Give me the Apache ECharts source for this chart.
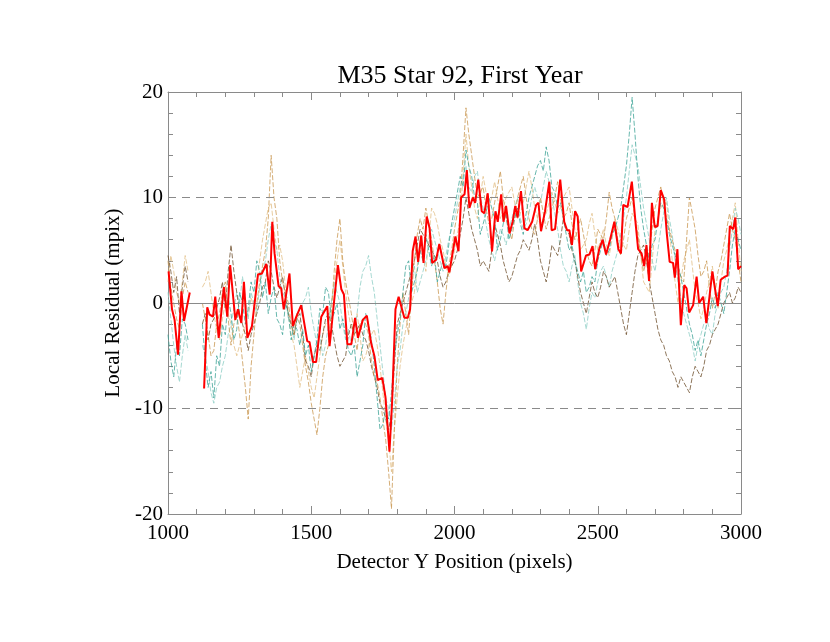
<!DOCTYPE html>
<html>
<head>
<meta charset="utf-8">
<script src="https://cdn.jsdelivr.net/npm/echarts@6/dist/echarts.min.js"></script>
<style>
  html, body { margin: 0; padding: 0; background: #fff; }
  #chart { width: 830px; height: 642px; }
</style>
</head>
<body>
<div id="chart"></div>
<script>
// thick red line: mean residual (irregular sample positions)
var redX = [1002, 1014, 1023, 1035, 1047, 1056, 1076, null,
  1126, 1137, 1145, 1157, 1165, 1177, 1195, 1207, 1217, 1235, 1244, 1256, 1265, 1277, 1293,
  1314, 1328, 1343, 1355, 1364, 1372, 1386, 1395, 1404, 1424, 1436, 1448, 1465, 1486, 1494,
  1506, 1517, 1535, 1556, 1564, 1581, 1593, 1605, 1614, 1626, 1640, 1653, 1663, 1680, 1694,
  1709, 1721, 1732, 1748, 1759, 1773, 1782, 1794, 1805, 1825, 1837, 1845, 1854, 1864, 1873,
  1884, 1892, 1903, 1913, 1922, 1936, 1947, 1965, 1976, 1982, 2003, 2014, 2023, 2035, 2043,
  2052, 2064, 2072, 2083, 2095, 2104, 2116, 2131, 2143, 2151, 2163, 2171, 2180, 2192, 2203,
  2212, 2220, 2232, 2244, 2255, 2271, 2285, 2293, 2302, 2316, 2331, 2339, 2351, 2369, 2383,
  2393, 2401, 2410, 2421, 2430, 2442, 2459, 2471, 2482, 2491, 2505, 2517, 2529, 2543, 2558,
  2572, 2581, 2589, 2604, 2619, 2633, 2641, 2653, 2662, 2670, 2679, 2689, 2699, 2709, 2720,
  2732, 2741, 2751, 2763, 2769, 2778, 2790, 2802, 2810, 2819, 2833, 2845, 2854, 2868, 2879,
  2890, 2900, 2909, 2919, 2929, 2944, 2953, 2961, 2973, 2980, 2990, 3000];
var redY = [3.0, -0.6, -1.6, -4.9, 1.1, -1.7, 1.0, null,
  -8.1, -0.4, -1.1, -1.3, 0.6, -3.3, 1.5, -1.3, 3.6, -1.6, -0.6, -1.9, 2.0, -3.3, -2.2,
  2.7, 2.8, 3.7, 0.8, 7.7, 4.7, 1.6, 1.4, -0.6, 2.8, -2.2, -1.3, -0.2, -3.6, -3.7,
  -5.6, -5.6, -1.3, -0.3, -4.1, 0.5, 3.6, 1.3, 0.8, -3.9, -3.9, -1.4, -3.3, -1.6, -1.2,
  -3.8, -5.1, -7.3, -7.1, -8.9, -14.1, -9.5, -0.6, 0.6, -1.4, -1.4, -0.6, 4.9, 6.3, 3.9,
  6.4, 3.8, 8.2, 7.1, 3.8, 4.1, 5.6, 3.3, 3.5, 2.9, 6.3, 4.9, 10.0, 10.3, 12.6,
  9.0, 10.0, 9.5, 11.7, 8.7, 8.5, 10.4, 4.9, 8.7, 7.7, 10.3, 7.7, 9.2, 6.6, 7.7,
  9.2, 8.1, 10.6, 7.1, 6.9, 7.7, 9.3, 9.5, 6.8, 8.7, 11.5, 6.9, 7.0, 11.7, 7.7,
  6.9, 6.9, 5.5, 8.7, 8.2, 3.0, 4.5, 4.6, 5.4, 3.2, 5.1, 6.0, 4.6, 6.0, 7.7,
  5.1, 4.7, 9.3, 9.1, 11.5, 7.3, 5.1, 4.7, 3.5, 5.5, 2.1, 9.5, 7.2, 7.3, 10.7,
  9.8, 6.6, 3.9, 3.8, 2.4, 5.1, -2.1, 1.7, 1.4, -0.9, -0.2, 2.5, 0.0, 0.6, -1.9,
  0.6, 3.0, 1.4, -0.3, 2.2, 2.5, 2.6, 7.3, 7.0, 8.1, 3.2, 3.5];

// thin lines: individual residual traces, one value every 10 pixels from 1000 to 3000
// (one row per 100 pixels)
var thinStart = 1000;
var thinStep = 10;
var tealY = [
  -3, -5.5, -7, -4, -5, -1.5, -2, -3.5, null, null,
  null, null, -2, -5.5, -8, -6.5, -9, -5, -6, -2,
  -3, 0.5, -1, -3.5, -2.5, 1, 0, -2, -0.5, 2,
  1, 4, 3, 0.5, 2, -1, 0.5, 1.5, -1.5, -2,
  -3, 0, -1, -3.5, -2, -2.5, -4, -2.5, -5, -4,
  -6.5, -5, -3.5, -0.5, -1, 1.5, 1, -1.5, -1, 0,
  -2.5, -1.5, -3, -4.5, -5, -4, -7, -5.5, -4, -1,
  -2, -3.5, -6, -9, -12, -11.5, -10, -11, -8.5, -5,
  -3, -1.5, 1, 3.5, 4, 1, 2, 3, 5, 4,
  6.5, 5, 3.5, 4.5, 2, 3, 4, 3.5, 5.5, 7.5,
  9, 10.5, 12, 11, 14.5, 13, 12, 10, 9.5, 6.5,
  7.5, 8.5, 10, 9, 8, 5, 6, 7.5, 8.5, 6,
  7, 8, 9, 7.5, 6.5, 8.5, 10, 11, 12, 13,
  13.5, 12.5, 14.8, 13.5, 11, 10.5, 9, 9.5, 8, 6.5,
  5, 5.5, 4, 3, 2, 3, 1, 1.5, 2.5, 2,
  4, 5, 6, 4.5, 5, 6.5, 7, 8, 9, 11,
  13, 16, 19.5, 16, 12, 9, 7, 5.5, 4, 5.5,
  6, 8, 9.5, 9, 8, 6.5, 5.5, 4.5, 3.5, 2.5,
  1, -0.5, -2, -3, -4.5, -3.5, -5, -3.5, -2, -1,
  0.5, -0.5, 1, 0, -1, 1, 3, 5.5, 7, 6,
  5];
var lightTealY = [
  1, -1.5, -4, -6, -7.5, -5, -3, -4.5, null, null,
  null, null, -4, -5, -6.5, -8.5, -9.5, -8, -7.5, -6,
  -5, -3, -2, -0.5, 1, 0, 2.5, 0.5, -1.5, 1,
  0, -1, 1.5, 3, 4, 6, 7.5, 6, 5, 2.5,
  1, 0.5, -1.5, -2, -3.5, -1.5, -2, 0, 0.5, 1.5,
  -1, -2.5, -4, -3, -5, -4, -2, 0, 2, 1,
  0, -2, -3.5, -2.5, -4, -3, -1, 1.5, 3, 3.5,
  4.5, 2.5, 1, -1.5, -4, -6.5, -9, -10, -12, -9.5,
  -6, -4.5, -2, -1, 0.5, 2, 3.5, 1, 2, 3,
  4, 5.5, 7, 6, 5, 4, 3, 4.5, 6, 7,
  8, 9.5, 11, 12, 13, 11, 10.5, 12, 12.5, 10,
  9, 7.5, 6, 5, 4, 5.5, 7, 6.5, 5.5, 7,
  8, 9, 10, 8, 7, 7.5, 8.5, 10, 11, 10,
  9.5, 11, 12.5, 11.5, 10, 8.5, 7, 5, 3.5, 3,
  2, 3.5, 4.5, 2, 0, -1, -2.5, -0.5, 1, 0.5,
  2, 3, 3.5, 2.5, 1.5, 3, 4, 5, 6.5, 8,
  10, 12.5, 15, 14, 13, 11, 9, 7.5, 6, 4,
  3, 5, 7, 8.5, 10, 8, 6.5, 4, 2, 0.5,
  -1, -2, -3, -4, -5.5, -4, -3, -2, -1.5, -2.5,
  -3, -1, 0, 1, 1.5, 3, 5, 7, 9, 8,
  6.5];
var tanY = [
  4, 1.5, 0, -1.5, -2.5, 0.5, 2, 1, null, null,
  null, null, 0, -1.5, -3, -5, -4.5, -2, -1, 1,
  2, -1.5, -4, -2, -1, -3, -5.5, -8, -11, -6,
  -3, 0, 2, 3.5, 5, 8, 14, 10, 8, 4,
  2, 1, 0, -2, -3, -1, -2, -4, -6, -7.5,
  -9.5, -11, -12.5, -10, -7, -5, -4, -1, 3, 6,
  8, 4, 2, 0.5, -1, -3, -4.5, -2, -1.5, -2,
  -3, -5.5, -7, -7.5, -9, -11, -13, -16, -19.5, -12,
  -6, -2, 1, -1, -3, 1, 4, 6.5, 8, 7,
  9, 7.5, 6, 4, 2, -0.5, -2, 1, 3.5, 5,
  7, 8.5, 10, 14, 18.5, 16, 14, 12, 10, 10.5,
  11, 9, 7.5, 8, 9.5, 11, 12.5, 10, 8, 7,
  6, 8, 10, 11, 12, 10, 8, 7, 6.5, 8,
  10, 8.5, 7, 8, 9, 10, 11.5, 10, 8, 8.5,
  9.5, 7.5, 6, 7, 8, 6.5, 5, 4, 3.5, 5,
  7, 6.5, 6, 8, 10.5, 9, 8, 6, 4.5, 6,
  8, 9, 10, 8, 6.5, 4.5, 3, 4, 5, 7,
  9, 10, 11, 9.5, 8, 7, 6, 5, 3.5, 2.5,
  2, 6, 10, 8.5, 7, 4.5, 2.5, 3, 4, 1.5,
  -0.5, 1, 3, 4, 5.5, 7, 8.5, 7, 6, 4,
  2];
var lightTanY = [
  2, 4.5, 3, 1, 0, 2, 4.5, 3, null, null,
  null, null, 1.5, 2, 3, 1, -1, -2.5, -3.5, -1.5,
  0, -1, -2, -4, -5, -4, -3, -2, -1, 0.5,
  -0.5, 2, 4, 6, 7.5, 9, 9.5, 7, 5, 5.5,
  4, 1.5, -1, -3, -4, -6, -8, -6.5, -5, -6.5,
  -8, -9, -7, -5, -3, -2, -1.5, 0, 2, 4,
  6, 3.5, 1, -1, -2.5, -2, -1, -3, -5.5, -5,
  -4, -3, -2.5, -4, -6, -8.5, -11, -13, -16, -12,
  -9, -6, -4, -2.5, -1, 0, 1, 3.5, 6, 4.5,
  3, 6, 9, 8.5, 7.5, 6, 5, 3.5, 2.5, 3.5,
  5, 6.5, 8, 12, 16, 13, 11, 9, 8, 10,
  12, 10.5, 9, 10, 11.5, 10, 8, 9, 10, 10.5,
  11, 9.5, 8, 8.5, 9.5, 11, 12.5, 11, 9, 8,
  7.5, 8, 8.5, 9.5, 10.5, 9.5, 8.5, 9, 10, 10.5,
  11, 9, 7, 6, 5, 5.5, 6, 7.5, 8.5, 6.5,
  5, 6, 7, 5.5, 4.5, 6, 8, 7, 6, 5.5,
  5, 7, 8.5, 8, 7.5, 4.5, 2, 1.5, 1, 4,
  7, 8, 9, 9.5, 9.5, 7, 4, 2, 0, 2,
  4, 5, 6, 3.5, 1, 0, -1.5, -0.5, 1, 2,
  3.5, 1.5, -0.5, 2, 4, 5, 6.5, 8, 9.5, 6,
  3];
var brownY = [
  4.5, 3, 1, 2.5, -1, 1.5, 3.5, 2, null, null,
  null, null, -2, -1, -3.5, -2, -1.5, -0.5, 0.5, 2,
  -0.5, 3, 5.5, 3, 1, -1, -2, -3, -4.5, -3,
  -2, -1, 0, 1.5, 2, 4, 3, 1.5, 0.5, 1.5,
  2.5, 0.5, -1, -2, -3, -1.5, -1, -3, -5.5, -6,
  -7, -5, -4, -4.5, -3, -1.5, -1, -2, -3.5, -5,
  -6, -5.5, -5, -3, -2, -3, -2.5, -2, -3, -3.5,
  -4.5, -6, -7, -8, -9.5, -10, -11, -12, -10.5, -6,
  -2, -1, 0, 1, 2, 3, 4, 5.5, 7, 6.5,
  6, 5.5, 5, 4.5, 4, 2.5, 1.5, 2, 3, 3.5,
  4, 5, 6.5, 8, 10, 8.5, 7, 6, 5, 3.5,
  4, 3.5, 3, 5, 7.5, 6.5, 5.5, 4, 3, 2,
  2.5, 3.5, 4.5, 5, 6, 5.5, 5, 6, 7.5, 6,
  4, 3, 2, 3.5, 5.5, 5, 4.5, 6, 8, 7,
  6.5, 5, 4, 2.5, 1, 0, -1, 0.5, 2, 1,
  0.5, 1.5, 3, 2.5, 1.5, 2, 2.5, 1, -0.5, -2,
  -3, -1, 1, 3, 4.5, 5, 5.5, 4, 2, 0.5,
  -1, -2.5, -3.5, -4, -5, -5.5, -6.5, -7, -8, -7,
  -7.5, -8, -8.5, -7, -6, -6.5, -7, -6, -4.5, -4,
  -3, -2.5, -2, -1, 0, 0.5, 1, 0, 0.5, 1.5,
  1];

var xTicks = [1000, 1500, 2000, 2500, 3000];
var yTicks = [-20, -10, 0, 10, 20];
var refLines = [-10, 0, 10];

function pairs(xs, ys) {
  return ys.map(function (y, i) { return [xs[i], y]; });
}
function thinPairs(ys) {
  return ys.map(function (y, i) { return [thinStart + i * thinStep, y]; });
}

var chart = echarts.init(document.getElementById('chart'));
var serif = 'Liberation Serif, Times New Roman, serif';
var frame = '#8a8a8a';

function axisBase(pos, isX, show) {
  return {
    type: 'value',
    position: pos,
    min: isX ? xTicks[0] : yTicks[0],
    max: isX ? xTicks[xTicks.length - 1] : yTicks[yTicks.length - 1],
    interval: isX ? 500 : 10,
    axisLine: { show: true, onZero: false, lineStyle: { color: frame, width: 1 } },
    axisTick: { show: true, inside: true, length: 8, lineStyle: { color: frame } },
    minorTick: { show: true, splitNumber: 5, length: 5, lineStyle: { color: frame } },
    splitLine: { show: false },
    axisLabel: {
      show: show, color: '#000', fontFamily: serif, fontSize: 21, margin: isX ? 9 : 5,
      formatter: function (v) { return String(v); }
    }
  };
}

var xBottom = axisBase('bottom', true, true);
xBottom.name = 'Detector Y Position (pixels)';
xBottom.nameLocation = 'middle';
xBottom.nameGap = 38;
xBottom.nameTextStyle = { color: '#000', fontFamily: serif, fontSize: 21 };
var yLeft = axisBase('left', false, true);
yLeft.name = 'Local Residual (mpix)';
yLeft.nameLocation = 'middle';
yLeft.nameGap = 44;
yLeft.nameTextStyle = { color: '#000', fontFamily: serif, fontSize: 21 };

function thin(name, ys, color, op) {
  return {
    name: name, type: 'line', data: thinPairs(ys), showSymbol: false, symbol: 'none',
    connectNulls: false, silent: true, z: 2,
    lineStyle: { color: color, width: 0.9, opacity: op, type: [5, 2] }
  };
}

var option = {
  animation: false,
  backgroundColor: '#fff',
  title: {
    text: 'M35 Star 92, First Year',
    left: 455, top: 58, textAlign: 'center',
    textStyle: { fontFamily: serif, fontSize: 26, fontWeight: 'normal', color: '#000' }
  },
  grid: { left: 168, right: 89, top: 92, bottom: 128 },
  xAxis: [xBottom, axisBase('top', true, false)],
  yAxis: [yLeft, axisBase('right', false, false)],
  series: [
    thin('light tan', lightTanY, '#e3c088', 0.9),
    thin('light teal', lightTealY, '#90cfc6', 0.9),
    thin('brown', brownY, '#6b4b27', 0.85),
    thin('tan', tanY, '#c8944c', 0.85),
    thin('teal', tealY, '#37a093', 0.85),
    {
      name: 'ref', type: 'line', data: [], silent: true,
      markLine: {
        silent: true, symbol: 'none', label: { show: false },
        data: refLines.map(function (v) {
          return { yAxis: v, lineStyle: { color: '#8a8a8a', width: 1, type: v === 0 ? 'solid' : [8, 6] } };
        })
      },
      z: 1
    },
    {
      name: 'mean', type: 'line', data: pairs(redX, redY), showSymbol: false, symbol: 'none',
      connectNulls: false, z: 5,
      lineStyle: { color: '#ff0000', width: 2 }
    }
  ]
};
chart.setOption(option);
window.addEventListener('resize', function () {
  chart.resize();
});
</script>
</body>
</html>
